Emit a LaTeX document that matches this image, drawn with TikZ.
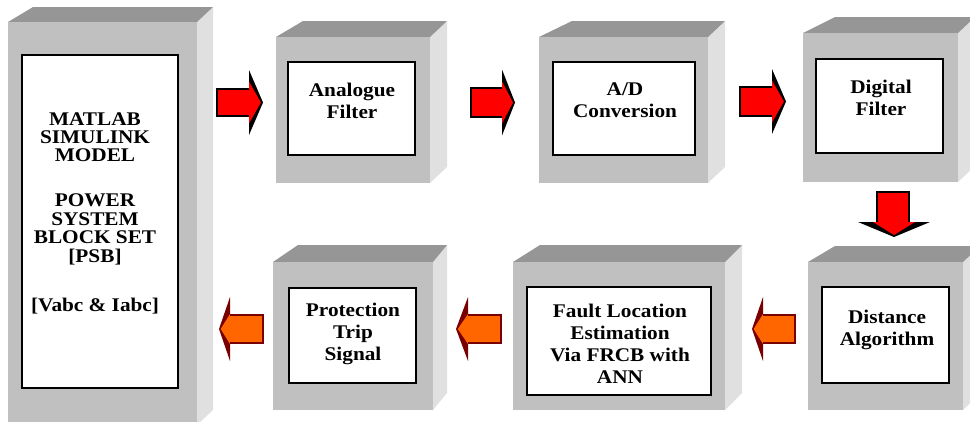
\documentclass[tikz,border=0pt]{standalone}
\usepackage{fontspec}
\setmainfont{Liberation Serif}[FakeStretch=1.1]
\usetikzlibrary{fit}
\definecolor{cfront}{RGB}{192,192,192}
\definecolor{ctop}{RGB}{150,150,150}
\definecolor{cside}{RGB}{224,224,224}
\definecolor{ared}{RGB}{255,0,0}
\definecolor{aorange}{RGB}{255,102,0}
\definecolor{adark}{RGB}{120,0,0}
% #1 x1, #2 y1 (front top), #3 x2, #4 y2 (front bottom), #5 left shift, #6 right shift, #7 depth
\newcommand{\blockthreed}[7]{%
  \fill[cside] (#3,#2) -- (#3+#6,#2-#7) -- (#3+#6,#4-#7) -- (#3,#4) -- cycle;
  \fill[ctop] (#1,#2) -- (#1+#5,#2-#7) -- (#3+#6,#2-#7) -- (#3,#2) -- cycle;
  \fill[cfront] (#1,#2) rectangle (#3,#4);
}
% #1 fill, #2 dark, #3 body end x, #4 head back x, #5 tip x, #6 mid y, #7 body half, #8 spike half, #9 inner half
\newcommand{\blockarrowh}[9]{%
  \fill[#2] (#4,#6-#8) -- (#5,#6) -- (#4,#6+#8) -- cycle;
  \fill[#1] (#4,#6-#9) -- ({#4+0.85*(#5-#4)},#6) -- (#4,#6+#9) -- cycle;
  \filldraw[fill=#1,draw=#2,line width=0.9pt] (#4,#6-#7) -- (#3,#6-#7) -- (#3,#6+#7) -- (#4,#6+#7);
}
\begin{document}
\begin{tikzpicture}[x=0.75pt,y=-0.75pt,
  inbox/.style={draw=black,line width=1.5pt,fill=white,inner sep=0pt},
  inboxthin/.style={draw=black,line width=0.9pt,fill=white,inner sep=0pt},
  lbl/.style={font=\bfseries\fontsize{14.5}{16.5}\selectfont,align=center,inner sep=0pt}]
\useasboundingbox (0,0) rectangle (970,421);
\begin{scope}
\clip (0,0) rectangle (970,421);
% 3D blocks
\blockthreed{8}{22}{197}{425}{25}{16}{15}
\blockthreed{276}{37}{430}{183}{27}{17}{16}
\blockthreed{539}{37}{708}{183}{33}{17}{16}
\blockthreed{803}{33}{958}{182}{32}{17}{16}
\blockthreed{273}{262}{433}{410}{25}{14}{17}
\blockthreed{513}{262}{725}{410}{27}{17}{17}
\blockthreed{808}{262}{963}{410}{27}{17}{16}
\end{scope}
% inner boxes
\node (bM) [inbox,fit={(22,55) (178,388)}] {};
\node (bA) [inbox,fit={(288,62) (415,155)}] {};
\node (bD) [inbox,fit={(553,62) (695,155)}] {};
\node (bF) [inbox,fit={(816,59) (943,153)}] {};
\node (bS) [inbox,fit={(822,287) (949,383)}] {};
\node (bL) [inbox,fit={(527,287) (711,395)}] {};
\node (bP) [inboxthin,fit={(289,288) (416,383)}] {};
% texts
\node (tM) [lbl,anchor=north,font=\bfseries\fontsize{14.5}{13.8}\selectfont] at (95,112)
  {MATLAB\\SIMULINK\\MODEL\\[20pt]POWER\\SYSTEM\\BLOCK SET\\{[PSB]}\\[23.5pt]{[Vabc \& Iabc]}};
\node (tA) [lbl] at (352,101) {Analogue\\Filter};
\node (tD) [lbl] at (625,100.5) {A/D\\Conversion};
\node (tF) [lbl] at (881,98) {Digital\\Filter};
\node (tS) [lbl] at (887,330) {Distance\\Algorithm};
\node (tL) [lbl] at (620,343.5) {Fault Location\\Estimation\\Via FRCB with\\ANN};
\node (tP) [lbl] at (353,334) {Protection\\Trip\\Signal};
% arrows
\blockarrowh{ared}{black}{217}{249}{263}{102.5}{13.5}{32.5}{21}
\blockarrowh{ared}{black}{471}{502}{515}{102.5}{14.5}{33}{21}
\blockarrowh{ared}{black}{740}{772}{786}{101.5}{14.5}{32.5}{21}
\blockarrowh{aorange}{adark}{263}{230}{219}{329}{14}{32}{15}
\blockarrowh{aorange}{adark}{501}{468}{456}{329}{14}{32}{15}
\blockarrowh{aorange}{adark}{795}{763}{752}{329}{14}{32}{15}
% down arrow
\fill[black] (858,222) -- (894,237) -- (930,222) -- cycle;
\fill[ared] (873,222) -- (894,235) -- (915,222) -- cycle;
\filldraw[fill=ared,draw=black,line width=0.9pt] (877,222) -- (877,192) -- (909,192) -- (909,222);
\end{tikzpicture}
\end{document}
